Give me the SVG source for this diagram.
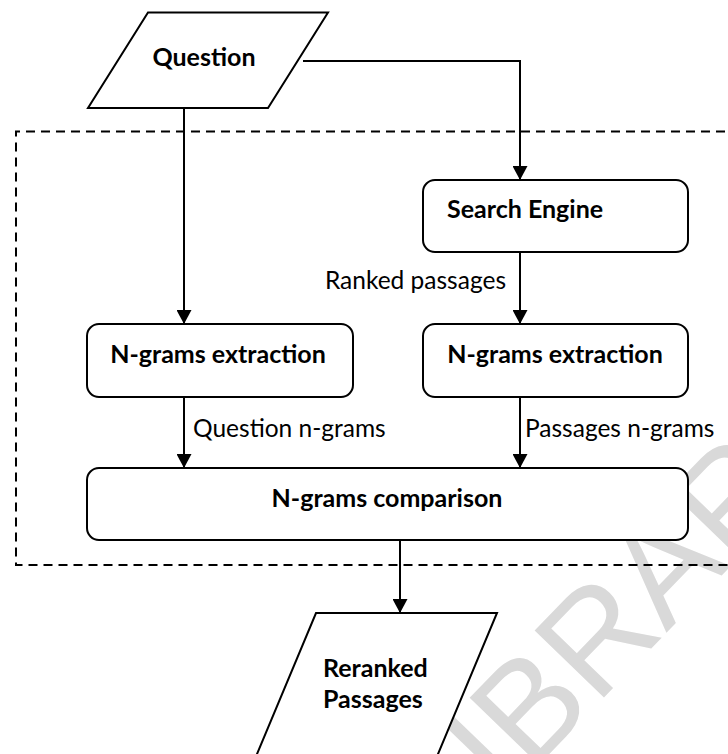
<svg xmlns="http://www.w3.org/2000/svg" width="728" height="754" viewBox="0 0 728 754">
  <style>
    .shape { fill: #ffffff; stroke: #000000; stroke-width: 2; }
    .wire { fill: none; stroke: #000000; stroke-width: 2; }
    .frame { fill: none; stroke: #000000; stroke-width: 2; stroke-dasharray: 9 6; }
    .title { font-family: Lato, "Open Sans", sans-serif; font-weight: bold; font-size: 25px; fill: #000000; }
    .label { font-family: Lato, "Open Sans", sans-serif; font-size: 24.5px; fill: #000000; }
    .mark { font-family: "Liberation Sans", Arial, sans-serif; font-size: 140px; fill: #d9d9d9; }
  </style>
  <defs>
    <marker id="arrow" viewBox="0 0 14 15" refX="14" refY="7.5" markerWidth="14" markerHeight="15" markerUnits="userSpaceOnUse" orient="auto">
      <path d="M0,0 L14,7.5 L0,15 z" fill="#000000"/>
    </marker>
  </defs>

  <rect width="728" height="754" fill="#ffffff"/>

  <!-- faint background stamp -->
  <text class="mark" transform="translate(450,857) rotate(-46)">LIBRARY</text>

  <!-- dashed processing boundary (open on the right) -->
  <path class="frame" d="M740,131.5 H16 V565 H740"/>

  <g id="connectors">
    <path class="wire" d="M303,61 H520 V180" marker-end="url(#arrow)"/>
    <path class="wire" d="M184,108 V324" marker-end="url(#arrow)"/>
    <path class="wire" d="M520,252 V324" marker-end="url(#arrow)"/>
    <path class="wire" d="M184,397 V468" marker-end="url(#arrow)"/>
    <path class="wire" d="M520,397 V468" marker-end="url(#arrow)"/>
    <path class="wire" d="M400,540 V613" marker-end="url(#arrow)"/>
    <text class="label" x="506" y="289" text-anchor="end">Ranked passages</text>
    <text class="label" x="193" y="437">Question n-grams</text>
    <text class="label" x="525" y="437">Passages n-grams</text>
  </g>

  <g id="question">
    <polygon class="shape" points="148,12.5 328,12.5 268,108 88,108"/>
    <text class="title" x="204" y="66" text-anchor="middle">Question</text>
  </g>

  <g id="search-engine">
    <rect class="shape" x="423" y="180" width="265" height="72" rx="12"/>
    <text class="title" x="447" y="218">Search Engine</text>
  </g>

  <g id="ngrams-question">
    <rect class="shape" x="87" y="324" width="266" height="73" rx="12"/>
    <text class="title" x="218" y="363" text-anchor="middle">N-grams extraction</text>
  </g>

  <g id="ngrams-passages">
    <rect class="shape" x="423" y="324" width="265" height="73" rx="12"/>
    <text class="title" x="555" y="363" text-anchor="middle">N-grams extraction</text>
  </g>

  <g id="ngrams-comparison">
    <rect class="shape" x="87" y="468" width="601" height="72" rx="12"/>
    <text class="title" x="387" y="507" text-anchor="middle">N-grams comparison</text>
  </g>

  <g id="reranked">
    <polygon class="shape" points="316,613 497,613 435.5,760 254.5,760"/>
    <text class="title" x="323" y="677">Reranked</text>
    <text class="title" x="323" y="708">Passages</text>
  </g>
</svg>
